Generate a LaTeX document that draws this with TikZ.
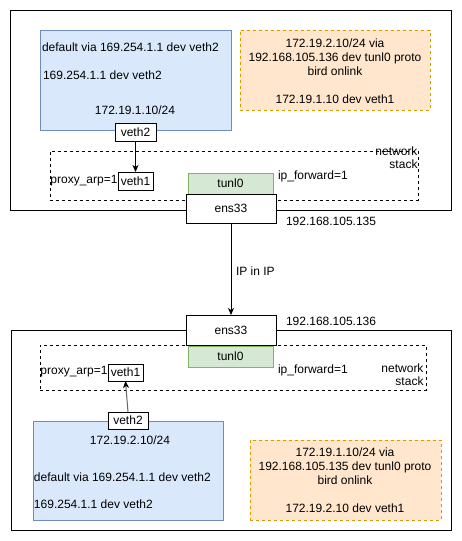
\documentclass[tikz,border=0pt]{standalone}
\usepackage{fontspec}
\setmainfont{Liberation Sans}
\usetikzlibrary{arrows.meta}
\definecolor{bluefill}{HTML}{DAE8FC}
\definecolor{bluedraw}{HTML}{6C8EBF}
\definecolor{orangefill}{HTML}{FFE6CC}
\definecolor{orangedraw}{HTML}{D79B00}
\definecolor{greenfill}{HTML}{D5E8D4}
\definecolor{greendraw}{HTML}{82B366}
\definecolor{arrowgrey}{HTML}{666666}
\begin{document}
\begin{tikzpicture}[x=1pt,y=-1pt,
  every node/.style={font=\fontsize{12}{14}\selectfont, inner sep=0pt, outer sep=0pt},
  box/.style={draw=black, line width=1pt, fill=white, minimum width=#1},
  hostbox/.style={draw=black, line width=1pt},
  stackbox/.style={draw=black, line width=0.8pt, dash pattern=on 3pt off 3pt},
  podbox/.style={draw=bluedraw, fill=bluefill, line width=1pt},
  routebox/.style={draw=orangedraw, fill=orangefill, line width=1pt, dash pattern=on 3pt off 3pt},
  tunbox/.style={draw=greendraw, fill=greenfill, line width=1pt, minimum width=85pt, minimum height=21pt},
  lbl/.style={anchor=west},
  link/.style={line width=1pt, -{Stealth[length=7pt,width=6pt,inset=2pt]}},
]
\fill[white] (0,0) rectangle (461,541);
\useasboundingbox (0,0) rectangle (461,541);

% ---------- top host ----------
\node[hostbox, minimum width=441pt, minimum height=200pt] (hostA) at (230.5,110) {};
\node[stackbox, minimum width=368pt, minimum height=49pt] (stackA) at (234,175.5) {};
\node[podbox, minimum width=191pt, minimum height=100pt] (podA) at (135.5,80) {};
\node[routebox, minimum width=190pt, minimum height=80pt] (routeA) at (335,70) {};
\node[lbl] (podAdef) at (42,47) {default via 169.254.1.1 dev veth2};
\node[lbl] (podAgw) at (43,75) {169.254.1.1 dev veth2};
\node (podAip) at (135,110) {172.19.1.10/24};
\node[align=center] (routeAtxt) at (335,71) {172.19.2.10/24 via\\192.168.105.136 dev tunl0 proto\\bird onlink\\[14pt]172.19.1.10 dev veth1};
\node[box=41pt, minimum height=18pt] (vethAtwo) at (135.5,132) {veth2};
\node[box=35pt, minimum height=18pt] (vethAone) at (135.5,181) {veth1};
\node[anchor=east] (proxyA) at (117.5,181) {proxy\_arp=1};
\node[lbl] (fwdA) at (278,176) {ip\_forward=1};
\node[align=right, anchor=north east, font=\fontsize{12}{13}\selectfont] (stackAtxt) at (417.5,147) {network\\stack};
\node[tunbox] (tunA) at (230.5,183.5) {tunl0};
\node[box=90pt, minimum height=29pt] (ensA) at (231,208.5) {ens33};
\node[lbl] (ipA) at (286,221) {192.168.105.135};

% ---------- bottom host ----------
\node[hostbox, minimum width=440pt, minimum height=200pt] (hostB) at (231,430) {};
\node[stackbox, minimum width=386pt, minimum height=45pt] (stackB) at (233,367.5) {};
\node[podbox, minimum width=190pt, minimum height=99pt] (podB) at (128,470.5) {};
\node[routebox, minimum width=191pt, minimum height=80pt] (routeB) at (345.5,480) {};
\node (podBip) at (130,440) {172.19.2.10/24};
\node[lbl] (podBdef) at (34,477) {default via 169.254.1.1 dev veth2};
\node[lbl] (podBgw) at (34,504) {169.254.1.1 dev veth2};
\node[align=center] (routeBtxt) at (345,480.5) {172.19.1.10/24 via\\192.168.105.135 dev tunl0 proto\\bird onlink\\[14pt]172.19.2.10 dev veth1};
\node[box=40pt, minimum height=17pt] (vethBtwo) at (128,420.5) {veth2};
\node[box=35pt, minimum height=17pt] (vethBone) at (125.5,372.5) {veth1};
\node[anchor=east] (proxyB) at (107.5,372) {proxy\_arp=1};
\node[lbl] (fwdB) at (278,370) {ip\_forward=1};
\node[align=right, anchor=north east, font=\fontsize{12}{13}\selectfont] (stackBtxt) at (423.5,364) {network\\stack};
\node[tunbox] (tunB) at (230.5,356.5) {tunl0};
\node[box=90pt, minimum height=30pt] (ensB) at (231,330) {ens33};
\node[lbl] (ipB) at (286,321) {192.168.105.136};

% ---------- connectors ----------
\draw[link] (vethAtwo.south) -- (vethAone.north);
\draw[link] (ensA.south) -- node[right=5pt, pos=0.52] (ipinip) {IP in IP} (ensB.north);
\draw[link, draw=arrowgrey, -{Stealth[length=7pt,width=6pt,inset=2pt,color=black]}] (vethBtwo.north) -- (vethBone.south);
\end{tikzpicture}
\end{document}
